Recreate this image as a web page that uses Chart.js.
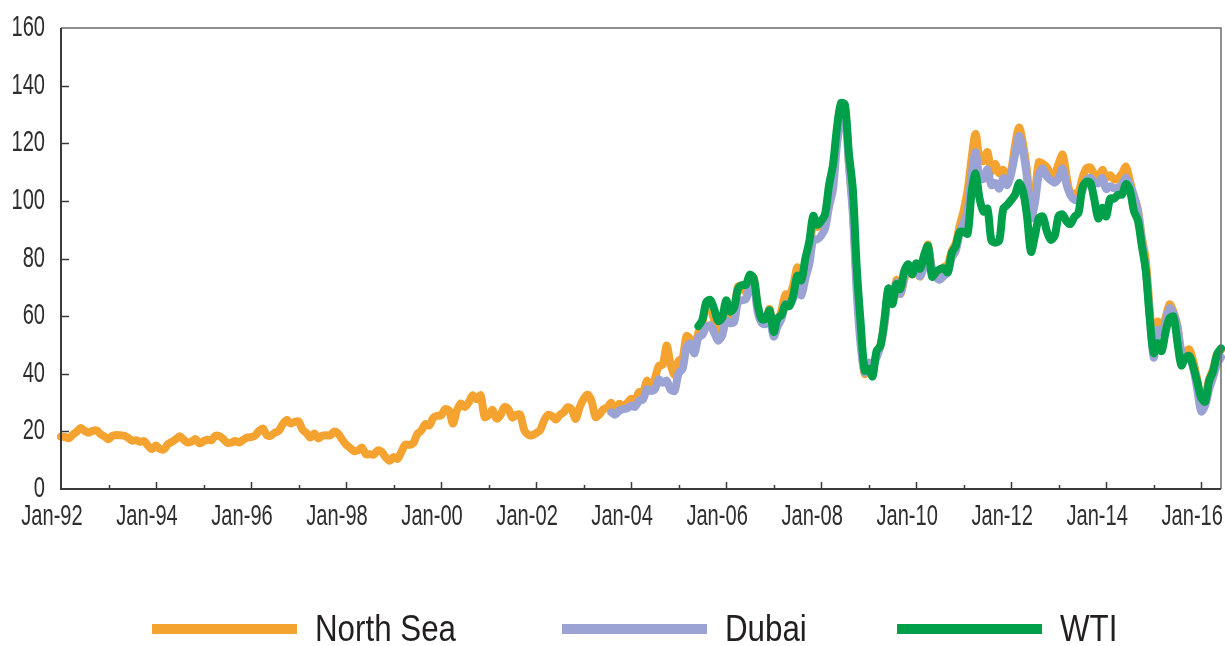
<!DOCTYPE html>
<html>
<head>
<meta charset="utf-8">
<script src="https://cdn.jsdelivr.net/npm/chart.js@4.4.1/dist/chart.umd.min.js"></script>
<style>
    html, body { margin: 0; padding: 0; background: #fff; }
    #wrap { position: relative; width: 1225px; height: 646px; }
    #legend .item {
        position: absolute;
        top: 611px;
        height: 36px;
        display: flex;
        align-items: center;
        font-family: 'Liberation Sans', Arial, sans-serif;
        font-size: 36px;
        line-height: 36px;
        color: #231f20;
        white-space: nowrap;
    }
    #legend .swatch { width: 145px; height: 10px; margin-right: 18px; flex: none; }
    #legend .name { display: inline-block; transform: scaleX(0.87); transform-origin: left center; }
</style>
</head>
<body>
<div id="wrap">
    <canvas id="oil-chart" width="1225" height="646"></canvas>
    <div id="legend"></div>
</div>
<script>
// Monthly crude prices, USD per barrel
const startYear = 1992;
const monthNames = ['Jan', 'Feb', 'Mar', 'Apr', 'May', 'Jun', 'Jul', 'Aug', 'Sep', 'Oct', 'Nov', 'Dec'];
const tickLabels = ['Jan-92', 'Jan-94', 'Jan-96', 'Jan-98', 'Jan-00', 'Jan-02', 'Jan-04',
                    'Jan-06', 'Jan-08', 'Jan-10', 'Jan-12', 'Jan-14', 'Jan-16'];
const seriesNames = ['North Sea', 'Dubai', 'WTI'];
const seriesColors = ['#f4a331', '#9aa3d4', '#00a04b'];

// Jan-92 .. Jun-16
const northSea = [
    18.16, 18.05, 17.63, 18.92, 19.89, 21.16, 20.17, 19.54, 20.19, 20.29, 19.05, 18.21,
    17.23, 18.47, 18.75, 18.62, 18.47, 17.71, 16.75, 16.94, 16.35, 16.66, 15.01, 13.84,
    15.06, 13.88, 13.76, 15.56, 16.37, 17.29, 18.27, 17.10, 16.11, 16.49, 17.32, 15.85,
    16.59, 17.10, 16.95, 18.50, 18.37, 17.33, 16.03, 16.09, 16.62, 16.12, 17.03, 17.86,
    17.99, 18.52, 20.09, 20.96, 18.64, 18.53, 19.54, 20.20, 22.43, 24.00, 22.74, 23.30,
    23.49, 20.61, 19.42, 17.86, 19.24, 17.57, 18.49, 18.65, 18.58, 19.93, 19.23, 17.18,
    15.43, 14.28, 13.16, 13.38, 14.39, 12.10, 12.09, 11.90, 13.39, 12.91, 11.03, 9.79,
    11.09, 10.42, 12.98, 15.42, 15.31, 15.90, 19.06, 20.26, 22.51, 22.03, 24.61, 25.43,
    25.52, 27.68, 27.23, 22.69, 27.28, 29.67, 28.45, 30.07, 32.56, 31.11, 32.52, 25.02,
    25.62, 27.46, 24.48, 25.64, 28.44, 27.69, 24.79, 25.74, 25.66, 20.48, 18.84, 18.67,
    19.39, 20.35, 23.70, 25.73, 25.35, 24.08, 25.74, 26.65, 28.40, 27.54, 24.34, 28.33,
    31.18, 32.77, 30.61, 25.00, 25.86, 27.65, 28.35, 29.89, 27.11, 29.61, 28.75, 29.81,
    31.28, 30.86, 33.63, 33.59, 37.57, 35.18, 38.22, 42.74, 43.20, 49.78, 43.11, 39.60,
    44.51, 45.48, 53.10, 51.88, 48.65, 54.35, 57.52, 63.98, 62.91, 58.54, 55.24, 56.86,
    62.99, 60.21, 62.06, 70.26, 69.78, 68.56, 73.67, 73.23, 61.96, 57.81, 58.76, 62.47,
    53.68, 57.56, 62.05, 67.49, 67.21, 71.05, 76.93, 70.76, 77.17, 82.34, 92.41, 90.93,
    92.18, 94.99, 103.64, 109.07, 122.80, 132.32, 132.72, 113.24, 97.23, 71.58, 52.45, 39.95,
    43.44, 43.32, 46.54, 50.18, 57.30, 68.61, 64.44, 72.51, 67.65, 72.77, 76.66, 74.46,
    76.17, 73.75, 78.83, 84.82, 75.95, 74.76, 75.58, 77.04, 77.84, 82.67, 85.28, 91.45,
    96.52, 103.72, 114.64, 123.26, 114.99, 113.83, 116.97, 110.22, 112.83, 109.55, 110.77, 107.87,
    110.69, 119.33, 125.45, 119.75, 110.34, 95.16, 102.62, 113.36, 112.86, 111.71, 109.06, 109.49,
    112.96, 116.05, 108.47, 102.25, 102.56, 102.92, 107.93, 111.28, 111.60, 109.08, 107.79, 110.76,
    108.12, 108.90, 107.48, 107.76, 109.54, 111.80, 106.77, 101.61, 97.09, 87.43, 79.44, 62.34,
    47.76, 58.10, 55.89, 59.52, 64.08, 61.48, 56.56, 46.52, 47.62, 48.43, 44.27, 38.01,
    30.70, 32.18, 38.21, 41.58, 46.74, 48.25
];

// Aug-03 .. Jun-16
const dubaiStart = 'Aug-03';
const dubai = [
    26.6, 25.8, 27.2, 27.7, 28.0,
    28.9, 28.5, 30.6, 31.0, 34.6, 34.0, 34.6, 38.0, 36.9, 37.6, 34.4, 34.1,
    40.2, 41.7, 49.1, 50.5, 47.1, 52.6, 53.5, 56.3, 56.8, 54.2, 51.5, 53.3,
    58.5, 57.6, 57.9, 64.9, 65.5, 65.9, 70.0, 70.4, 61.4, 57.6, 57.3, 59.4,
    52.9, 56.4, 59.1, 64.1, 64.4, 66.3, 70.3, 67.2, 73.0, 78.0, 86.6, 86.6,
    87.9, 90.4, 98.0, 104.1, 119.4, 128.1, 131.2, 112.9, 95.5, 68.0, 49.6, 40.5,
    43.9, 43.1, 45.6, 49.9, 57.5, 69.5, 65.1, 71.6, 67.7, 73.5, 77.8, 75.7,
    76.8, 73.8, 77.2, 83.7, 76.7, 73.5, 72.6, 74.0, 75.2, 80.3, 82.6, 88.8,
    92.4, 96.4, 108.7, 116.9, 108.1, 107.6, 110.9, 105.5, 106.2, 104.3, 107.9, 105.5,
    109.5, 116.2, 122.5, 117.3, 107.9, 94.0, 99.3, 109.1, 111.2, 108.5, 107.2, 106.3,
    107.9, 111.2, 105.6, 101.9, 100.4, 100.3, 103.5, 107.1, 108.0, 106.6, 106.1, 107.9,
    104.1, 105.1, 104.4, 104.7, 105.6, 108.0, 105.2, 101.8, 96.5, 86.2, 76.2, 60.2,
    45.6, 55.1, 54.4, 57.6, 62.7, 61.1, 56.1, 47.8, 45.4, 45.8, 41.8, 34.6,
    26.9, 29.0, 34.6, 38.8, 43.3, 45.7
];

// Jun-05 .. Jun-16
const wtiStart = 'Jun-05';
const wti = [
    56.5, 58.7, 64.9, 65.6, 62.4, 58.3, 59.4,
    65.5, 61.6, 62.9, 69.4, 70.8, 70.9, 74.4, 73.0, 63.8, 58.9, 59.1, 62.0,
    54.5, 59.3, 60.4, 64.0, 63.5, 67.5, 74.1, 72.4, 79.9, 85.8, 94.8, 91.7,
    93.0, 95.4, 105.5, 112.6, 125.4, 133.9, 133.4, 116.7, 104.1, 76.6, 57.3, 41.1,
    41.7, 39.1, 47.9, 49.7, 59.0, 69.6, 64.2, 71.1, 69.4, 75.7, 78.0, 74.5,
    78.3, 76.4, 81.2, 84.3, 73.7, 75.3, 76.3, 76.6, 75.2, 81.9, 84.3, 89.2,
    89.2, 88.6, 102.9, 109.5, 100.9, 96.3, 97.3, 86.3, 85.5, 86.3, 97.2, 98.6,
    100.3, 102.2, 106.2, 103.3, 94.7, 82.3, 87.9, 94.1, 94.5, 89.5, 86.5, 87.9,
    94.8, 95.3, 92.9, 92.0, 94.5, 95.8, 104.6, 106.6, 106.3, 100.5, 93.9, 97.6,
    94.6, 100.8, 100.8, 102.1, 102.2, 105.8, 103.6, 96.5, 93.2, 84.4, 75.8, 59.3,
    47.2, 50.6, 47.8, 54.5, 59.3, 59.8, 50.9, 42.9, 45.5, 46.2, 42.4, 37.2,
    31.7, 30.3, 37.5, 40.8, 46.7, 48.8
];

const yTicks = { min: 0, max: 160, step: 20 };

const FONT = "'Liberation Sans', Arial, sans-serif";

const months = northSea.map((v, i) =>
    monthNames[i % 12] + '-' + String((startYear + Math.floor(i / 12)) % 100).padStart(2, '0'));

function padFrom(label, values) {
    const offset = months.indexOf(label);
    return new Array(offset).fill(null).concat(values);
}

// frame, inward tick marks and the tall narrow axis labels of the original
const frameAndTicks = {
    id: 'frameAndTicks',
    afterDraw(chart) {
        const { ctx, chartArea: a, scales: { x, y } } = chart;
        ctx.save();

        ctx.strokeStyle = '#6b6b6b';
        ctx.lineWidth = 1.5;
        ctx.beginPath();
        ctx.moveTo(a.left, a.top);
        ctx.lineTo(a.right, a.top);
        ctx.lineTo(a.right, a.bottom);
        ctx.stroke();

        ctx.strokeStyle = '#3a3a3a';
        ctx.lineWidth = 2;
        ctx.beginPath();
        ctx.moveTo(a.left, a.top);
        ctx.lineTo(a.left, a.bottom);
        ctx.lineTo(a.right, a.bottom);
        ctx.stroke();

        ctx.lineWidth = 1.5;
        months.forEach((m, i) => {
            if (i % 12 !== 0 || i === 0) return;
            const px = Math.round(x.getPixelForValue(i)) + 0.5;
            const len = (i / 12) % 2 === 0 ? 7 : 4;
            ctx.beginPath();
            ctx.moveTo(px, a.bottom);
            ctx.lineTo(px, a.bottom - len);
            ctx.stroke();
        });
        y.ticks.forEach(t => {
            if (t.value <= yTicks.min || t.value >= yTicks.max) return;
            const py = Math.round(y.getPixelForValue(t.value)) + 0.5;
            ctx.beginPath();
            ctx.moveTo(a.left, py);
            ctx.lineTo(a.left + 8, py);
            ctx.stroke();
        });

        ctx.fillStyle = '#2e2e2e';
        ctx.font = '30px ' + FONT;
        ctx.textBaseline = 'alphabetic';
        ctx.textAlign = 'center';
        x.ticks.forEach((t, i) => {
            if (!t.label) return;
            ctx.save();
            ctx.translate(x.getPixelForTick(i) - 9, a.bottom + 36);
            ctx.scale(0.67, 1);
            ctx.fillText(t.label, 0, 0);
            ctx.restore();
        });
        ctx.textAlign = 'right';
        y.ticks.forEach(t => {
            ctx.save();
            ctx.translate(a.left - 16, y.getPixelForValue(t.value) + 8);
            ctx.scale(0.67, 1);
            ctx.fillText(t.label, 0, 0);
            ctx.restore();
        });
        ctx.restore();
    }
};

function renderOilChart() {
    const ctx = document.getElementById('oil-chart').getContext('2d');
    const seriesData = [northSea, padFrom(dubaiStart, dubai), padFrom(wtiStart, wti)];

    new Chart(ctx, {
        type: 'line',
        data: {
            labels: months,
            datasets: seriesNames.map((name, i) => ({
                label: name,
                data: seriesData[i],
                borderColor: seriesColors[i],
                backgroundColor: seriesColors[i],
                borderWidth: 8,
                pointRadius: 0,
                tension: 0.3,
                borderJoinStyle: 'round',
                borderCapStyle: 'round',
                spanGaps: false,
                order: seriesNames.length - i
            }))
        },
        options: {
            responsive: false,
            animation: false,
            layout: { padding: { top: 28, right: 4, left: 0, bottom: 0 } },
            plugins: {
                legend: { display: false },
                tooltip: { enabled: false }
            },
            scales: {
                x: {
                    type: 'category',
                    offset: false,
                    grid: { display: false, drawTicks: false },
                    border: { display: false },
                    afterFit: scale => { scale.height = 157; scale.paddingLeft = 0; scale.paddingRight = 0; },
                    ticks: {
                        display: false,
                        autoSkip: false,
                        maxRotation: 0,
                        minRotation: 0,
                        callback: function (value) {
                            const lab = this.getLabelForValue(value);
                            return tickLabels.includes(lab) ? lab : '';
                        }
                    }
                },
                y: {
                    min: yTicks.min,
                    max: yTicks.max,
                    grid: { display: false, drawTicks: false },
                    border: { display: false },
                    afterFit: scale => { scale.width = 61; },
                    ticks: {
                        display: false,
                        stepSize: yTicks.step
                    }
                }
            }
        },
        plugins: [frameAndTicks]
    });
}

function renderLegend() {
    const legend = document.getElementById('legend');
    const lefts = [152, 562, 897];
    seriesNames.forEach((name, i) => {
        const item = document.createElement('div');
        item.className = 'item';
        item.style.left = lefts[i] + 'px';
        item.innerHTML = `<span class="swatch" style="background:${seriesColors[i]}"></span><span class="name">${name}</span>`;
        legend.appendChild(item);
    });
}

renderOilChart();
renderLegend();
</script>
</body>
</html>
